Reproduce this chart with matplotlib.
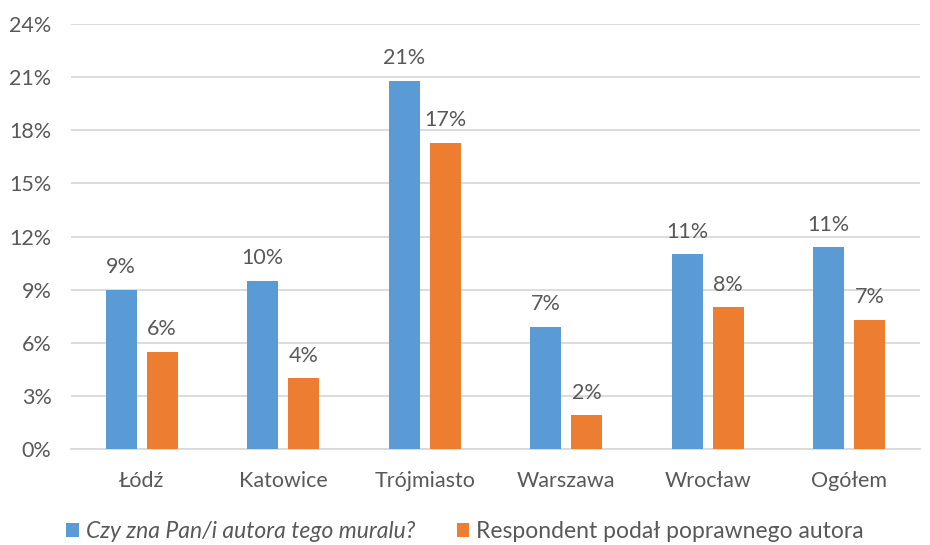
import numpy as np
import matplotlib.pyplot as plt

plt.rcParams['font.family'] = ['Lato', 'DejaVu Sans']

cities = ['Łódź', 'Katowice', 'Trójmiasto', 'Warszawa', 'Wrocław', 'Ogółem']
knows_author = [9.0, 9.5, 20.8, 6.9, 11.0, 11.4]
correct_author = [5.5, 4.0, 17.3, 1.9, 8.0, 7.3]
knows_labels = ['9%', '10%', '21%', '7%', '11%', '11%']
correct_labels = ['6%', '4%', '17%', '2%', '8%', '7%']
series_names = ['Czy zna Pan/i autora tego muralu?', 'Respondent podał poprawnego autora']
yticks = [0, 3, 6, 9, 12, 15, 18, 21, 24]

blue = '#5B9BD5'
orange = '#ED7D31'
txt = '#595959'
fs = 15.5

fig = plt.figure(figsize=(9.3, 5.45), dpi=100)
ax = fig.add_axes([0.0763, 0.176, 0.913, 0.78])

x = np.arange(len(cities))
w = 0.22
off = 0.145
b1 = ax.bar(x - off, knows_author, w, color=blue, zorder=3, label=series_names[0])
b2 = ax.bar(x + off, correct_author, w, color=orange, zorder=3, label=series_names[1])

for xi, v, s in zip(x, knows_author, knows_labels):
    ax.text(xi - off, v + 0.7, s, ha='center', va='bottom', fontsize=fs, color=txt)
for xi, v, s in zip(x, correct_author, correct_labels):
    ax.text(xi + off, v + 0.7, s, ha='center', va='bottom', fontsize=fs, color=txt)

ax.set_xlim(-0.5, len(cities) - 0.5)
ax.set_ylim(0, 24)
ax.set_yticks(yticks)
ax.set_yticklabels([f'{t}%' for t in yticks])
ax.set_xticks(x)
ax.set_xticklabels(cities)
ax.tick_params(axis='both', length=0, labelsize=fs, colors=txt)
ax.tick_params(axis='x', pad=16)
ax.tick_params(axis='y', pad=14)
ax.grid(axis='y', color='#D9D9D9', linewidth=1.3, zorder=0)
for sp in ['top', 'right', 'left']:
    ax.spines[sp].set_visible(False)
ax.spines['bottom'].set_color('#D9D9D9')
ax.spines['bottom'].set_linewidth(1.3)

leg = fig.legend(handles=[b1, b2], loc='lower center', bbox_to_anchor=(0.5, -0.032),
                 ncol=2, frameon=False, fontsize=16.5, handlelength=0.55, handleheight=0.55,
                 handletextpad=0.3, columnspacing=1.8)
for t in leg.get_texts():
    t.set_color(txt)
leg.get_texts()[0].set_style('italic')

fig.savefig('out.png', dpi=100)
